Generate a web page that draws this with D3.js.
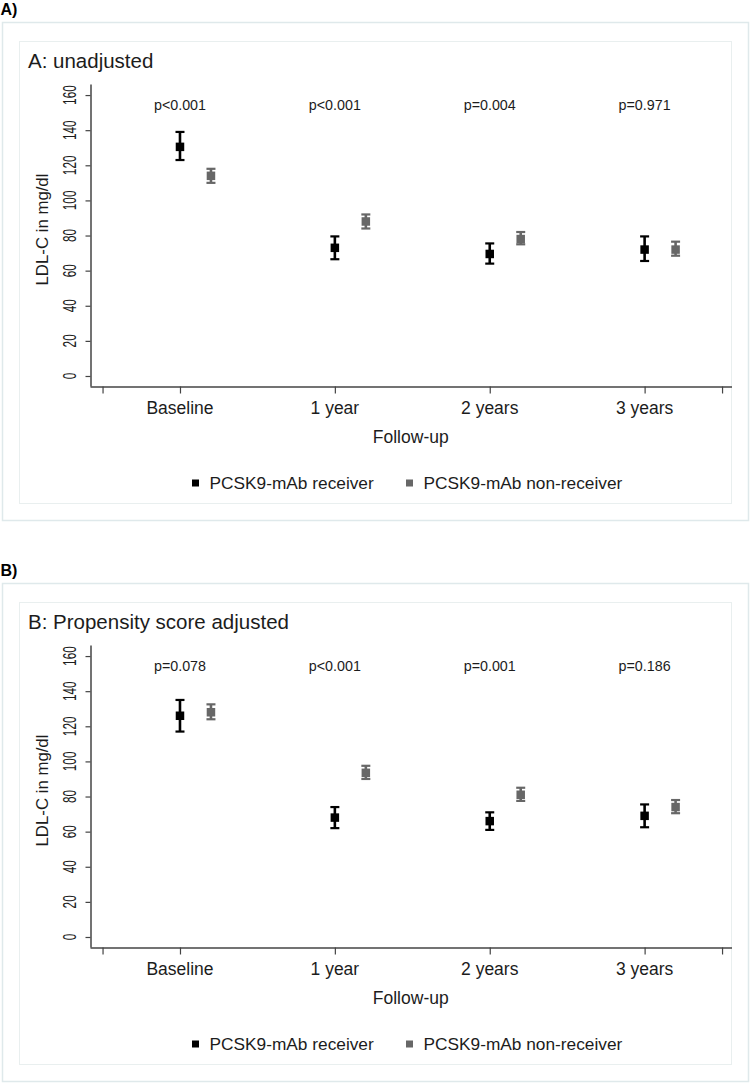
<!DOCTYPE html>
<html>
<head>
<meta charset="utf-8">
<script src="https://cdn.jsdelivr.net/npm/d3@7"></script>
<style>
  html, body { margin: 0; padding: 0; background: #fff; }
  svg { display: block; font-family: "Liberation Sans", Arial, sans-serif; }
</style>
</head>
<body>
<svg id="chart" width="751" height="1084"></svg>
<script>
// ---------- data ----------
const categories = ["Baseline", "1 year", "2 years", "3 years"];
const seriesNames = ["PCSK9-mAb receiver", "PCSK9-mAb non-receiver"];
const yTicks = [0, 20, 40, 60, 80, 100, 120, 140, 160];

// Panel A: unadjusted
const recA     = [130.5, 73, 69.5, 72];
const recALow  = [123, 66.5, 64, 65.5];
const recAHigh = [139, 79.5, 75.5, 79.5];
const nonA     = [114, 88, 78, 72];
const nonALow  = [110, 84, 75, 68.5];
const nonAHigh = [118, 92, 82, 76.5];
const pA = ["p<0.001", "p<0.001", "p=0.004", "p=0.971"];

// Panel B: propensity score adjusted
const recB     = [126, 68, 66, 69];
const recBLow  = [117, 62, 61, 62.5];
const recBHigh = [135, 74, 71, 75.5];
const nonB     = [128, 93.5, 81, 74];
const nonBLow  = [124, 90, 77.5, 70.5];
const nonBHigh = [132.5, 97.5, 85, 78];
const pB = ["p=0.078", "p<0.001", "p=0.001", "p=0.186"];

// ---------- drawing ----------
const svg = d3.select("#chart");
const colors = ["#000000", "#676767"];
const textColor = "#1c1c1c";

function panel(dy, letter, title, rec, recLow, recHigh, non, nonLow, nonHigh, pvals) {
  const g = svg.append("g").attr("transform", `translate(0,${dy})`);

  g.append("text").attr("x", 0.5).attr("y", 15)
    .attr("font-size", 16).attr("font-weight", "bold").attr("fill", "#000")
    .text(letter);

  g.append("rect").attr("x", 2.5).attr("y", 22.5).attr("width", 746).attr("height", 498)
    .attr("fill", "none").attr("stroke", "#dfe9eb").attr("stroke-width", 1.5);
  g.append("rect").attr("x", 19.5).attr("y", 41.5).attr("width", 712).attr("height", 462)
    .attr("fill", "none").attr("stroke", "#e9efef").attr("stroke-width", 1);

  g.append("text").attr("x", 28).attr("y", 67.5)
    .attr("font-size", 20.5).attr("fill", textColor).text(title);

  const x = d3.scaleLinear().domain([0.419, 4.561]).range([90, 731.5]);
  const y = d3.scaleLinear().domain([-5.7, 166.3]).range([386, 84]);

  // y axis
  const yAxis = g.append("g").attr("transform", "translate(90.5,0)")
    .call(d3.axisLeft(y).tickValues(yTicks).tickSize(5).tickSizeOuter(0).tickFormat(""));
  yAxis.select(".domain").attr("stroke", "#444").attr("stroke-width", 1.5);
  yAxis.selectAll(".tick line").attr("stroke", "#444").attr("stroke-width", 1.2);
  g.selectAll("text.ytl").data(yTicks).join("text").attr("class", "ytl")
    .attr("transform", d => `translate(75.5,${y(d)}) rotate(-90) scale(0.64,1)`)
    .attr("text-anchor", "middle").attr("font-size", 18.5).attr("fill", textColor)
    .text(d => d);

  g.append("text")
    .attr("transform", `translate(48,${(y(0) + y(160)) / 2 - 6}) rotate(-90)`)
    .attr("text-anchor", "middle").attr("font-size", 16.8).attr("fill", textColor)
    .text("LDL-C in mg/dl");

  // x axis
  const xAxis = g.append("g").attr("transform", "translate(0,386.5)")
    .call(d3.axisBottom(x).tickValues([0.5, 1, 2, 3, 4, 4.5]).tickSize(7).tickSizeOuter(0)
      .tickFormat(""));
  xAxis.select(".domain").attr("stroke", "#444").attr("stroke-width", 1.5);
  xAxis.selectAll(".tick line").attr("stroke", "#444").attr("stroke-width", 1.2);
  g.selectAll("text.xtl").data(categories).join("text").attr("class", "xtl")
    .attr("x", (d, i) => x(i + 1)).attr("y", 414)
    .attr("text-anchor", "middle").attr("font-size", 17.5).attr("fill", textColor)
    .text(d => d);

  g.append("text").attr("x", (x(0.419) + x(4.561)) / 2).attr("y", 443)
    .attr("text-anchor", "middle").attr("font-size", 17.5).attr("fill", textColor)
    .text("Follow-up");

  // p-values
  g.selectAll("text.pv").data(pvals).join("text").attr("class", "pv")
    .attr("x", (d, i) => x(i + 1)).attr("y", 109.5)
    .attr("text-anchor", "middle").attr("font-size", 14.3).attr("fill", textColor)
    .text(d => d);

  // series
  const series = [
    { c: colors[0], off: 0,   v: rec, lo: recLow, hi: recHigh },
    { c: colors[1], off: 0.2, v: non, lo: nonLow, hi: nonHigh }
  ];
  const capW = 9, sq = 8.5;
  series.forEach(s => {
    const data = categories.map((c, i) => ({ xv: i + 1 + s.off, v: s.v[i], lo: s.lo[i], hi: s.hi[i] }));
    const sg = g.append("g");
    sg.selectAll("line.v").data(data).join("line").attr("class", "v")
      .attr("x1", d => x(d.xv)).attr("x2", d => x(d.xv))
      .attr("y1", d => y(d.lo)).attr("y2", d => y(d.hi))
      .attr("stroke", s.c).attr("stroke-width", 2.6);
    sg.selectAll("line.lo").data(data).join("line").attr("class", "lo")
      .attr("x1", d => x(d.xv) - capW / 2).attr("x2", d => x(d.xv) + capW / 2)
      .attr("y1", d => y(d.lo)).attr("y2", d => y(d.lo))
      .attr("stroke", s.c).attr("stroke-width", 2.2);
    sg.selectAll("line.hi").data(data).join("line").attr("class", "hi")
      .attr("x1", d => x(d.xv) - capW / 2).attr("x2", d => x(d.xv) + capW / 2)
      .attr("y1", d => y(d.hi)).attr("y2", d => y(d.hi))
      .attr("stroke", s.c).attr("stroke-width", 2.2);
    sg.selectAll("rect").data(data).join("rect")
      .attr("x", d => x(d.xv) - sq / 2).attr("y", d => y(d.v) - sq / 2)
      .attr("width", sq).attr("height", sq).attr("fill", s.c);
  });

  // legend
  const legX = [192, 406];
  const leg = g.selectAll("g.leg").data(seriesNames).join("g").attr("class", "leg")
    .attr("transform", (d, i) => `translate(${legX[i]},483)`);
  leg.append("rect").attr("x", 0).attr("y", -3.5).attr("width", 7).attr("height", 7)
    .attr("fill", (d, i) => colors[i]);
  leg.append("text").attr("x", 17.5).attr("y", 6.2)
    .attr("font-size", 17.3).attr("fill", textColor).text(d => d);
}

panel(0, "A)", "A: unadjusted", recA, recALow, recAHigh, nonA, nonALow, nonAHigh, pA);
panel(561, "B)", "B: Propensity score adjusted", recB, recBLow, recBHigh, nonB, nonBLow, nonBHigh, pB);
</script>
</body>
</html>
